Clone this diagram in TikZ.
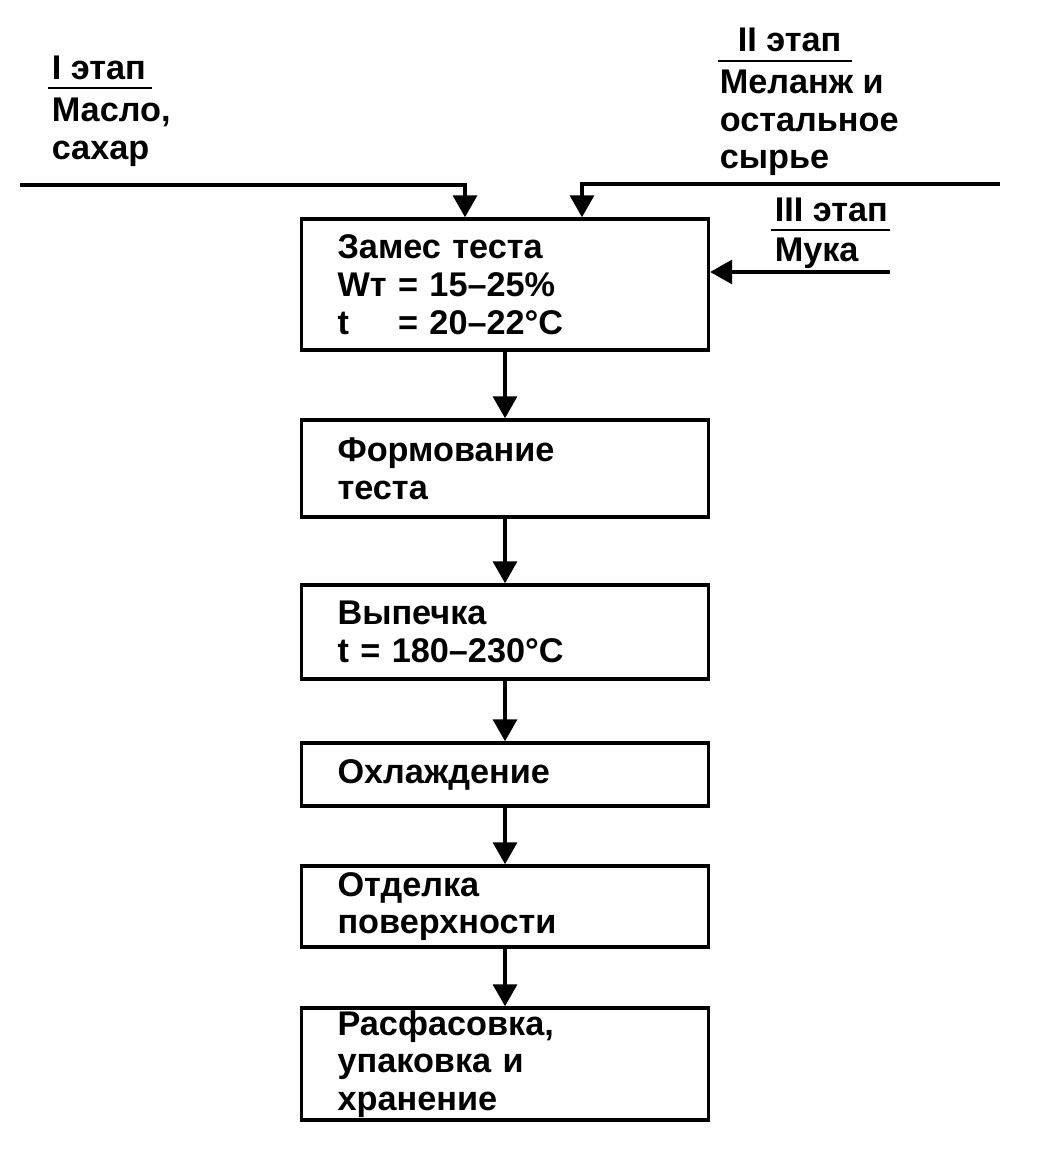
\documentclass[tikz,border=0pt]{standalone}
\usepackage{fontspec}
\setmainfont{Liberation Sans}
\usetikzlibrary{arrows.meta}

\begin{document}
\begin{tikzpicture}[x=0.02cm, y=-0.02cm, line width=2pt,
    every node/.style={font=\bfseries\fontsize{19.5}{21.5}\selectfont, inner sep=0pt},
    stage/.style={draw, line width=2pt, minimum width=8.12cm, text width=6.7cm, inner xsep=0.72cm, align=left},
    flow/.style={-{Triangle[length=0.44cm, width=0.48cm]}}]
        \useasboundingbox (0,0) rectangle (1046,1165);
        % process steps
        \node[stage, minimum height=2.62cm] (zames) at (505,284.5) {Замес теста\\Wт = 15–25\%\\\leavevmode\rlap{t}\phantom{Wт} = 20–22°C};
        \node[stage, minimum height=1.94cm] (form) at (505,468.5) {Формование\\теста};
        \node[stage, minimum height=1.88cm] (vypechka) at (505,632) {Выпечка\\t = 180–230°C};
        \node[stage, minimum height=1.26cm] (ohl) at (505,774.5) {Охлаждение};
        \node[stage, minimum height=1.62cm] (otdelka) at (505,906.5) {Отделка\\поверхности};
        \node[stage, minimum height=2.24cm] (rasf) at (505,1064) {Расфасовка,\\упаковка и\\хранение};
        \draw[flow] (zames) -- (form);
        \draw[flow] (form) -- (vypechka);
        \draw[flow] (vypechka) -- (ohl);
        \draw[flow] (ohl) -- (otdelka);
        \draw[flow] (otdelka) -- (rasf);
        % raw material inputs
        \coordinate (in1) at (20,185);
        \coordinate (in2) at (1000,184);
        \coordinate (in3) at (890,272);
        \draw[flow] (in1) -| ([xshift=-0.8cm]zames.north);
        \draw[flow] (in2) -| ([xshift=1.54cm]zames.north);
        \draw[flow] (in3) -- (zames.east |- in3);
        % stage labels
        \node[anchor=base west] (st1) at (50,80) {I этап};
        \draw[line width=1.4pt] (48,88) -- (152,88);
        \node[anchor=north west, align=left] (mat1) at (50,96) {Масло,\\сахар};
        \node[anchor=base west] (st2) at (736,52) {II этап};
        \draw[line width=1.4pt] (718,61) -- (852,61);
        \node[anchor=north west, align=left] (mat2) at (718,68) {Меланж и\\остальное\\сырье};
        \node[anchor=base west] (st3) at (773,222) {III этап};
        \draw[line width=1.4pt] (771,230) -- (890,230);
        \node[anchor=north west, align=left] (mat3) at (773,236) {Мука};
\end{tikzpicture}
\end{document}
